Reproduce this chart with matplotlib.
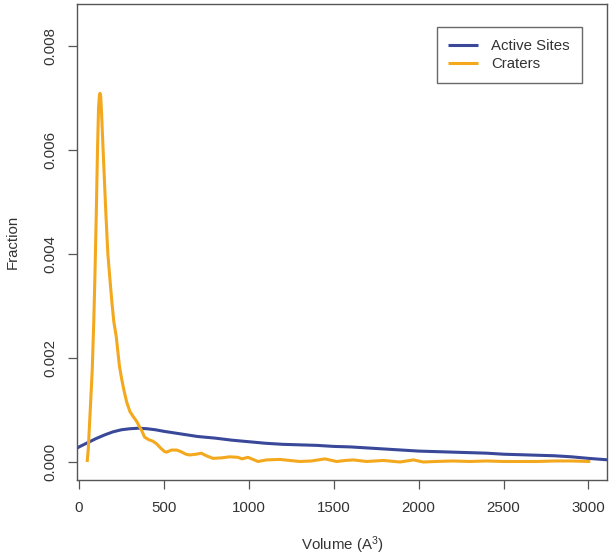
import matplotlib
matplotlib.use("Agg")
import matplotlib.pyplot as plt

# ---- data ----
active_x = [-20, 0, 50, 100, 150, 200, 250, 300, 350, 400, 450, 500, 600, 700, 800,
            900, 1000, 1100, 1200, 1300, 1400, 1500, 1600, 1700, 1800, 1900, 2000,
            2100, 2200, 2300, 2400, 2500, 2600, 2700, 2800, 2900, 3000, 3120]
active_y = [0.00025, 0.00029, 0.00037, 0.00045, 0.00052, 0.00058, 0.00062, 0.00064,
            0.00065, 0.00064, 0.00062, 0.00059, 0.00054, 0.00049, 0.00046, 0.00042,
            0.00039, 0.00036, 0.00034, 0.00033, 0.00032, 0.00030, 0.00029, 0.00027,
            0.00025, 0.00023, 0.00021, 0.00020, 0.00019, 0.00018, 0.00017, 0.00015,
            0.00014, 0.00013, 0.00012, 0.00010, 0.00007, 0.00004]

crater_x = [48, 55, 65, 78, 87, 94, 102, 109, 115, 120, 124, 128, 133, 142, 158, 170,
            180, 193, 205, 219, 238, 251, 264, 281, 300, 320, 340, 356, 370, 386, 410,
            435, 457, 480, 504, 516, 545, 575, 600, 630, 651, 690, 720, 750, 789,
            840, 887, 936, 960, 995, 1054, 1104, 1182, 1240, 1300, 1369, 1448, 1517,
            1570, 1615, 1694, 1792, 1890, 1969, 2028, 2100, 2200, 2300, 2400, 2500,
            2600, 2700, 2800, 2900, 3011]
crater_y = [0.0, 0.00026, 0.00092, 0.00177, 0.0027, 0.0036, 0.0048, 0.0060, 0.0068,
            0.00705, 0.00709, 0.00703, 0.0067, 0.0060, 0.0048, 0.0040,
            0.0036, 0.0031, 0.0027, 0.00242, 0.00185, 0.0016, 0.00139, 0.00115,
            0.00097, 0.00087, 0.00078, 0.00068, 0.0006, 0.00048, 0.00043,
            0.0004, 0.00035, 0.00027, 0.0002, 0.00019, 0.00023, 0.00023, 0.0002,
            0.00015, 0.000135, 0.00015, 0.00017, 0.00012, 0.00007,
            0.00008, 0.00010, 0.00009, 0.00006, 0.00009, 0.00001, 0.00004, 0.00005,
            0.00003, 0.00001, 0.00002, 0.00006, 0.00001, 0.00003, 0.00004, 0.00001,
            0.00003, 0.0, 0.00004, 0.0, 0.00001, 0.00002, 0.00001, 0.00002, 0.00001,
            0.00001, 0.00001, 0.00002, 0.00002, 0.00001]

xticks = [0, 500, 1000, 1500, 2000, 2500, 3000]
yticks = [0.000, 0.002, 0.004, 0.006, 0.008]
series_labels = ["Active Sites", "Craters"]

# ---- style ----
plt.rcParams['font.family'] = ['Liberation Sans', 'DejaVu Sans']
plt.rcParams['mathtext.fontset'] = 'custom'
plt.rcParams['mathtext.rm'] = 'Liberation Sans'
plt.rcParams['mathtext.default'] = 'regular'

FS = 10.8
TXT = '#333333'
AX = '#555555'
BLUE = '#3a489a'
ORANGE = '#f3a81e'

W, H = 614, 558
fig = plt.figure(figsize=(W / 100, H / 100), dpi=100)
L, R, T, B = 76.7, 607.3, 4.3, 480.0
ax = fig.add_axes([L / W, 1 - B / H, (R - L) / W, (B - T) / H])

ax.plot(active_x, active_y, color=BLUE, lw=2.2, label=series_labels[0],
        solid_capstyle='butt', solid_joinstyle='round')
ax.plot(crater_x, crater_y, color=ORANGE, lw=2.2, label=series_labels[1],
        solid_capstyle='butt', solid_joinstyle='round')

ax.set_xlim(-13.5, 3111)
ax.set_ylim(-0.000346, 0.008802)

ax.set_xticks(xticks)
ax.set_xticklabels([str(v) for v in xticks])
ax.set_yticks(yticks)
ax.set_yticklabels(['%.3f' % v for v in yticks], rotation=90, va='center')

ax.tick_params(axis='both', direction='out', length=6.5, width=0.9, color=AX,
               labelcolor=TXT, labelsize=FS)
ax.tick_params(axis='x', pad=8.5)
ax.tick_params(axis='y', pad=7.5)

for s in ax.spines.values():
    s.set_color(AX)
    s.set_linewidth(1.0)

fig.text(342 / W, 1 - 545 / H, r'Volume (A$^3$)', ha='center', va='center',
         fontsize=FS, color=TXT)
fig.text(13 / W, 1 - 242 / H, 'Fraction', ha='center', va='center', rotation=90,
         fontsize=FS, color=TXT)

leg = ax.legend(loc='upper right', bbox_to_anchor=(0.9517, 0.9517), borderaxespad=0,
                fontsize=FS, frameon=True, fancybox=False, handlelength=2.0,
                handletextpad=0.89, borderpad=0.77, labelspacing=0.3)
leg.get_frame().set_edgecolor('#444444')
leg.get_frame().set_linewidth(1.0)
for t in leg.get_texts():
    t.set_color(TXT)

fig.savefig('out.png', dpi=100)
